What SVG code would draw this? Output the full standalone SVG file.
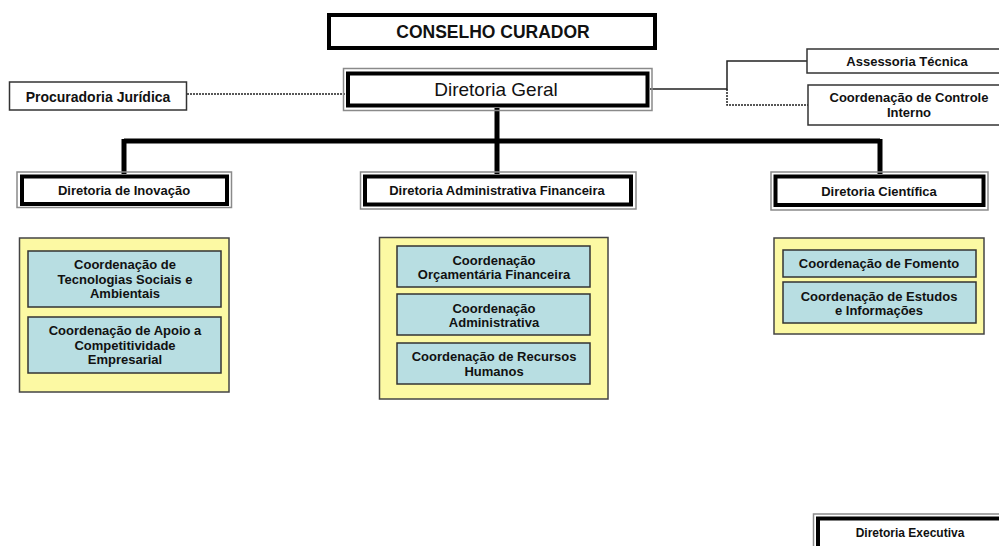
<svg xmlns="http://www.w3.org/2000/svg" width="999" height="546" viewBox="0 0 999 546">
<style>
text{font-family:"Liberation Sans",Arial,sans-serif;fill:#111;text-anchor:middle;font-weight:bold}
.s{font-size:13px}
.d{font-size:13px}
.gray{fill:none;stroke:#8a8a8a;stroke-width:1.5}
.blk{fill:#fff;stroke:#000;stroke-width:4}
.thin{fill:#fff;stroke:#333;stroke-width:1.5}
.yel{fill:#fcf9a3;stroke:#444;stroke-width:1.5}
.cy{fill:#b8dee2;stroke:#333;stroke-width:1.5}
.trunk{stroke:#000;stroke-width:5;fill:none}
.sol{stroke:#222;stroke-width:1.5;fill:none}
.dot{stroke:#222;stroke-width:1.5;fill:none;stroke-dasharray:2 1}
</style>
<g id="connectors">
<path class="trunk" d="M497 108V174M124 141H880M124 139V174M880 139V174"/>
<path class="dot" d="M187 94H345"/>
<path class="sol" d="M650 89H727V61H807"/>
<path class="dot" d="M727 89V105H808"/>
</g>
<g id="conselho">
<rect class="blk" x="329" y="15" width="326" height="33"/>
<text x="493" y="38" style="font-size:17.5px">CONSELHO CURADOR</text>
</g>
<g id="geral">
<rect class="gray" x="343.5" y="68.5" width="308.5" height="42"/>
<rect class="blk" x="348" y="73.5" width="299.5" height="32"/>
<text x="496" y="96" style="font-size:19px;font-weight:normal">Diretoria Geral</text>
</g>
<g id="procuradoria">
<rect class="thin" x="9.5" y="82" width="177" height="28"/>
<text class="s" x="98" y="101.5" style="font-size:14px">Procuradoria Jurídica</text>
</g>
<g id="assessoria">
<rect class="thin" x="807" y="49" width="200" height="24"/>
<text class="s" x="907" y="66">Assessoria Técnica</text>
</g>
<g id="controle">
<rect class="thin" x="808" y="85" width="200" height="40"/>
<text class="s" x="909" y="102">Coordenação de Controle</text>
<text class="s" x="909" y="117">Interno</text>
</g>
<g id="inovacao">
<rect class="gray" x="17" y="172" width="214.5" height="35.5"/>
<rect class="blk" x="22" y="176.5" width="205" height="27.5"/>
<text class="d" x="124" y="195">Diretoria de Inovação</text>
</g>
<g id="adm">
<rect class="gray" x="360.5" y="172" width="275.5" height="37"/>
<rect class="blk" x="365" y="176.5" width="266" height="28"/>
<text class="d" x="497" y="195">Diretoria Administrativa Financeira</text>
</g>
<g id="cientifica">
<rect class="gray" x="771" y="172" width="217" height="38"/>
<rect class="blk" x="775.5" y="176.5" width="208" height="28.5"/>
<text class="d" x="879" y="195.5">Diretoria Científica</text>
</g>
<g id="grupo-inovacao">
<rect class="yel" x="19.5" y="238" width="209.5" height="154"/>
<rect class="cy" x="28" y="251" width="193" height="56"/>
<text class="s" x="125" y="269">Coordenação de</text>
<text class="s" x="125" y="283.5">Tecnologias Sociais e</text>
<text class="s" x="125" y="298">Ambientais</text>
<rect class="cy" x="28" y="317" width="193" height="56"/>
<text class="s" x="125" y="335">Coordenação de Apoio a</text>
<text class="s" x="125" y="349.5">Competitividade</text>
<text class="s" x="125" y="364">Empresarial</text>
</g>
<g id="grupo-adm">
<rect class="yel" x="379.5" y="237.5" width="228.5" height="161.5"/>
<rect class="cy" x="397" y="246" width="193" height="41"/>
<text class="s" x="494" y="264.5">Coordenação</text>
<text class="s" x="494" y="278.5">Orçamentária Financeira</text>
<rect class="cy" x="397" y="294" width="193" height="41"/>
<text class="s" x="494" y="312.5">Coordenação</text>
<text class="s" x="494" y="326.5">Administrativa</text>
<rect class="cy" x="397" y="343" width="193" height="41"/>
<text class="s" x="494" y="361">Coordenação de Recursos</text>
<text class="s" x="494" y="375.5">Humanos</text>
</g>
<g id="grupo-cientifica">
<rect class="yel" x="774" y="238" width="210" height="96"/>
<rect class="cy" x="783" y="250" width="193" height="27"/>
<text class="s" x="879" y="268">Coordenação de Fomento</text>
<rect class="cy" x="783" y="282" width="193" height="41"/>
<text class="s" x="879" y="300.5">Coordenação de Estudos</text>
<text class="s" x="879" y="315">e Informações</text>
</g>
<g id="executiva">
<rect class="gray" x="813.5" y="514" width="200" height="40"/>
<rect class="blk" x="818" y="518.5" width="200" height="40"/>
<text x="910" y="537" style="font-size:12px">Diretoria Executiva</text>
</g>
</svg>
